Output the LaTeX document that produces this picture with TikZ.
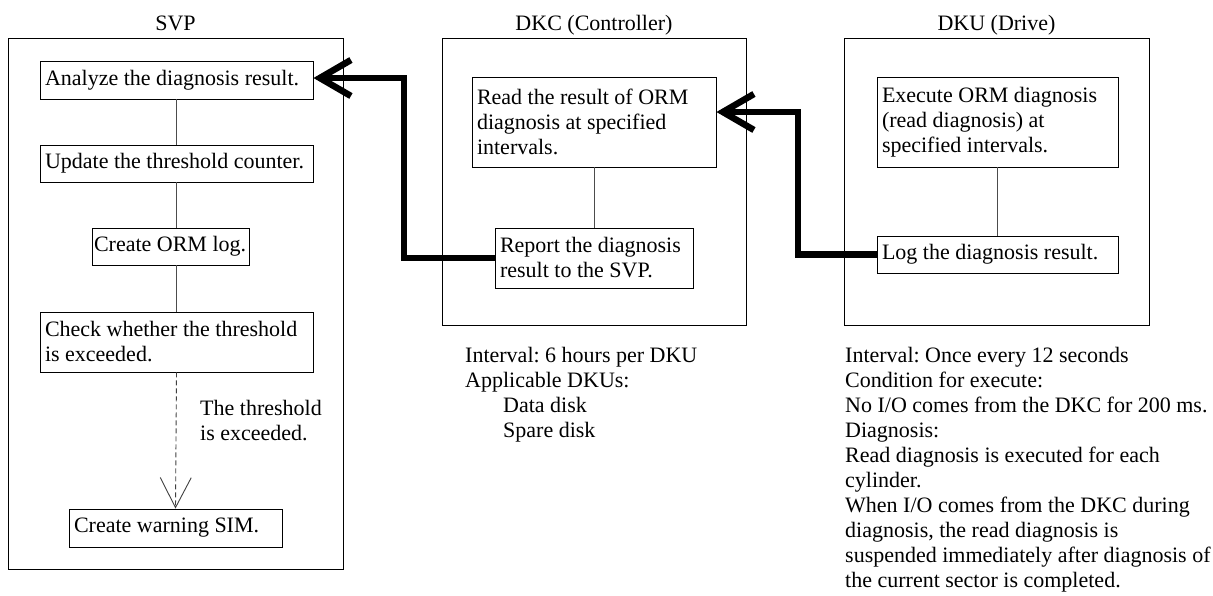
\documentclass[tikz,border=0pt]{standalone}
\usepackage{fontspec}
\setmainfont{Liberation Serif}
\usetikzlibrary{arrows.meta,calc}
\begin{document}
\frenchspacing
\begin{tikzpicture}[x=1pt,y=-1pt,
  every node/.style={font=\fontsize{22}{25}\selectfont\frenchspacing},
  outerbox/.style={draw, line width=0.9pt, inner sep=0pt},
  stepbox/.style={draw, line width=0.9pt, inner xsep=5pt, inner ysep=0pt, align=flush left},
  link/.style={draw=black!70, line width=0.9pt},
  bigarrow/.style={line width=6.5pt, line join=miter, -{Straight Barb[length=31pt,width=36pt]}},
  dasharrow/.style={line width=0.9pt, draw=black!75, dash pattern=on 5pt off 3pt, -{Straight Barb[length=30pt,width=31pt]}},
  caption/.style={inner sep=0pt, anchor=north west, align=flush left},
  title/.style={inner sep=0pt, anchor=base}]
\useasboundingbox (0,0) rectangle (1213,595);

% titles
\node[title] (tsvp) at (175.5,30) {SVP};
\node[title] (tdkc) at (594,30) {DKC (Controller)};
\node[title] (tdku) at (996.5,30) {DKU (Drive)};

% outer boxes
\node[outerbox, minimum width=335, minimum height=531] (svp) at (175.5,303.5) {};
\node[outerbox, minimum width=304, minimum height=287] (dkc) at (594,181.5) {};
\node[outerbox, minimum width=305, minimum height=287] (dku) at (996.5,181.5) {};

% SVP steps
\node[stepbox, minimum width=273, minimum height=38, text width=263] (analyze) at (176.5,80) {Analyze the diagnosis result.};
\node[stepbox, minimum width=273, minimum height=37, text width=263] (update) at (176.5,163.5) {Update the threshold counter.};
\node[stepbox, inner xsep=2pt, minimum width=157, minimum height=37, text width=153] (ormlog) at (170.5,246.5) {Create ORM log.};
\node[stepbox, minimum width=273, minimum height=60, text width=263] (check) at (176.5,342) {Check whether the threshold\\is exceeded.};
\node[stepbox, minimum width=213, minimum height=38, text width=203] (warn) at (175.5,528) {Create warning SIM.};

% DKC steps
\node[stepbox, minimum width=244, minimum height=90, text width=234] (read) at (594,122) {Read the result of ORM\\diagnosis at specified\\intervals.};
\node[stepbox, minimum width=198, minimum height=60, text width=188] (report) at (594,258) {Report the diagnosis\\result to the SVP.};

% DKU steps
\node[stepbox, minimum width=241, minimum height=90, text width=231] (execute) at (997.5,122) {Execute ORM diagnosis\\(read diagnosis) at\\specified intervals.};
\node[stepbox, minimum width=241, minimum height=37, text width=231] (log) at (997.5,254.5) {Log the diagnosis result.};

% thin links
\draw[link] (analyze.south) -- (update.north);
\draw[link] (update.south) -- (update.south |- ormlog.north);
\draw[link] (check.north |- ormlog.south) -- (check.north);
\draw[link] (read.south) -- (report.north);
\draw[link] (execute.south) -- (log.north);

% dashed arrow
\draw[dasharrow] (check.south) -- (warn.north);
\node[caption] (exceeded) at (200,400) {The threshold\\is exceeded.};

% thick arrows
\coordinate (c1) at (404,258);
\coordinate (c2) at (798,254.5);
\draw[bigarrow] (report.west) -- (c1) |- ([yshift=2pt]analyze.east);
\draw[bigarrow] (log.west) -- (c2) |- ([yshift=10pt]read.east);

% captions
\node[caption] (dkcnote) at (465,347) {Interval: 6 hours per DKU\\Applicable DKUs:\\\hspace*{38pt}Data disk\\\hspace*{38pt}Spare disk};
\node[caption] (dkunote) at (845,347) {Interval: Once every 12 seconds\\Condition for execute:\\No I/O comes from the DKC for 200 ms.\\Diagnosis:\\Read diagnosis is executed for each\\cylinder.\\When I/O comes from the DKC during\\diagnosis, the read diagnosis is\\suspended immediately after diagnosis of\\the current sector is completed.};
\end{tikzpicture}
\end{document}
